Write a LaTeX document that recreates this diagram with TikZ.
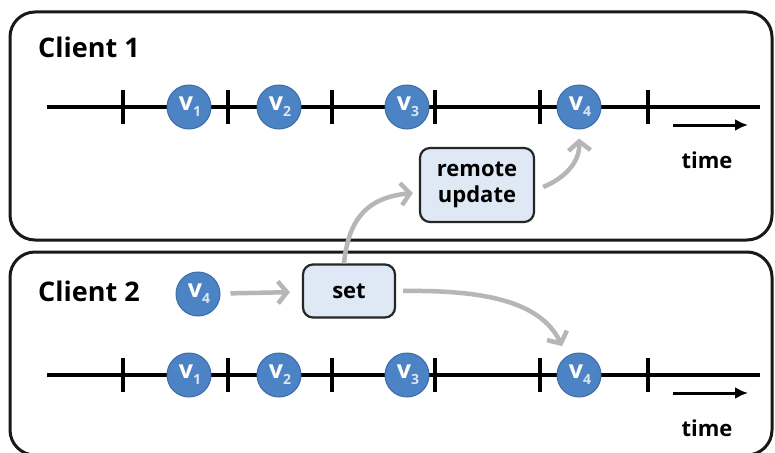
\documentclass[tikz,border=0pt]{standalone}
\usepackage{fontspec}
\setmainfont{Open Sans}
\usetikzlibrary{arrows.meta}
\definecolor{vblue}{RGB}{76,131,196}
\definecolor{vborder}{RGB}{62,108,165}
\definecolor{boxfill}{RGB}{223,232,245}
\definecolor{garrowc}{RGB}{182,182,182}
\begin{document}
\begin{tikzpicture}[x=1pt,y=-1pt,
  panel/.style={draw=black!90,line width=3pt,rounded corners=25pt},
  tl/.style={line width=3.6pt,black},
  tick/.style={line width=3.6pt,black},
  vnode/.style={circle,minimum size=44pt,inner sep=0pt,fill=vblue,draw=vborder,line width=1pt,text=white,font=\bfseries\fontsize{25}{25}\selectfont},
  opbox/.style={draw=black!85,line width=2.2pt,fill=boxfill,rounded corners=10pt,align=center,font=\bfseries\fontsize{22}{26}\selectfont,inner sep=0pt},
  title/.style={font=\bfseries\fontsize{27}{27}\selectfont,anchor=west,inner sep=0pt},
  timelbl/.style={font=\bfseries\fontsize{22}{22}\selectfont,inner sep=0pt},
  timearrow/.style={line width=3pt,-{Latex[length=13pt,width=12pt]}},
  garrow/.style={draw=garrowc,line width=4.5pt,-{Straight Barb[length=9pt,width=22pt]}}
]
\newcommand{\vlab}[1]{\hspace{2pt}v\raisebox{-6pt}{\fontsize{14}{14}\selectfont\color{white!80!vblue}#1}}
\useasboundingbox (0,0) rectangle (775,452);
\fill[white] (0,0) rectangle (775,452);
% panels
\draw[panel] (10,12) rectangle (772,240);
\draw[panel] (10,252) rectangle (772,455);
% titles
\node[title] (c1) at (38,47) {Client 1};
\node[title] (c2) at (38,291) {Client 2};
% timelines
\foreach \y/\n in {107/a,375/b}{
  \coordinate (ls\n) at (47,\y);
  \coordinate (le\n) at (760,\y);
  \draw[tl] (ls\n) -- (le\n);
  \foreach \x in {123,228,332,435,540,648}{
    \draw[tick] (\x,\y-17) -- (\x,\y+17);
  }
}
% top nodes
\node[vnode] (v1a) at (189,107) {\vlab{1}};
\node[vnode] (v2a) at (279,107) {\vlab{2}};
\node[vnode] (v3a) at (407,107) {\vlab{3}};
\node[vnode] (v4a) at (579,107) {\vlab{4}};
% bottom nodes
\node[vnode] (v1b) at (189,375) {\vlab{1}};
\node[vnode] (v2b) at (279,375) {\vlab{2}};
\node[vnode] (v3b) at (407,375) {\vlab{3}};
\node[vnode] (v4b) at (579,375) {\vlab{4}};
\node[vnode] (v4c) at (198,294) {\vlab{4}};
% boxes
\node[opbox,minimum width=114pt,minimum height=74pt] (ru) at (477,185) {remote\\update};
\node[opbox,minimum width=92pt,minimum height=53pt] (set) at (349,291) {set};
% time arrows
\coordinate (tas) at (673,125);
\coordinate (tae) at (748,125);
\draw[timearrow] (tas) -- (tae);
\node[timelbl] (tl1) at (707,160) {time};
\coordinate (tbs) at (673,393);
\coordinate (tbe) at (748,393);
\draw[timearrow] (tbs) -- (tbe);
\node[timelbl] (tl2) at (707,428) {time};
% gray arrows
\draw[garrow,shorten <=10pt,shorten >=12pt] (v4c) -- (set);
\draw[garrow] ([xshift=-5pt]set.north) .. controls (348,225) and (362,198) .. ([yshift=-8pt,xshift=-6pt]ru.west);
\draw[garrow] ([xshift=8pt,yshift=-2pt]ru.east) .. controls (565,178) and (580,162) .. ([yshift=-9pt]v4a.south);
\draw[garrow] ([xshift=7pt]set.east) .. controls (480,290) and (540,300) .. ([yshift=13pt,xshift=-1pt]v4b.north west);
\end{tikzpicture}
\end{document}
